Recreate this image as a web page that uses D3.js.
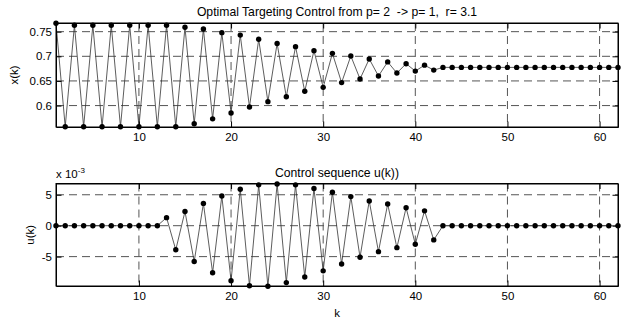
<!DOCTYPE html>
<html lang="en">
    <head>
        <meta charset="utf-8">
        <title>Optimal Targeting Control</title>
        <script src="https://d3js.org/d3.v7.min.js"></script>
    </head>

    <style type="text/css">
        body {
            margin: 0;
            background: #fff;
        }

        svg text {
            font-family: "Liberation Sans", Arial, Helvetica, sans-serif;
            font-size: 11.5px;
            fill: #000;
            white-space: pre;
        }

        svg text.title {
            font-size: 12.2px;
        }

        .grid line {
            stroke: #555;
            stroke-width: 1px;
            stroke-dasharray: 8,5;
        }

        .trace {
            fill: none;
            stroke: #333;
            stroke-width: 0.8px;
        }
    </style>

    <body>
        <div class="chart"></div>
        <script type="text/javascript">
            // data
            var kValues = d3.range(1, 63);

            var xValues = [0.767, 0.557, 0.763, 0.557, 0.763, 0.557, 0.763, 0.557, 0.763, 0.557,
                           0.763, 0.557, 0.763, 0.557, 0.759, 0.563, 0.7555, 0.573, 0.748, 0.585,
                           0.743, 0.597, 0.7345, 0.608, 0.726, 0.618, 0.7196, 0.629, 0.7115, 0.637,
                           0.706, 0.6466, 0.7007, 0.654, 0.6946, 0.660, 0.6886, 0.666, 0.685, 0.670,
                           0.682, 0.672, 0.6775, 0.6775, 0.6775, 0.6775, 0.6775, 0.6775, 0.6775, 0.6775,
                           0.6775, 0.6775, 0.6775, 0.6775, 0.6775, 0.6775, 0.6775, 0.6775, 0.6775, 0.6775,
                           0.6775, 0.6775];

            // u(k) in units of 1e-3
            var uValues = [0, 0, 0, 0, 0, 0, 0, 0, 0, 0,
                           0, 0, 1.3, -3.9, 2.3, -5.8, 3.6, -7.6, 4.8, -8.9,
                           5.9, -9.7, 6.6, -9.8, 6.75, -9.2, 6.6, -8.3, 6.0, -7.3,
                           5.4, -6.2, 4.7, -5.1, 4.0, -4.2, 3.5, -3.55, 2.9, -3.0,
                           2.4, -2.3, 0, 0, 0, 0, 0, 0, 0, 0,
                           0, 0, 0, 0, 0, 0, 0, 0, 0, 0,
                           0, 0];

            var kTicks = [10, 20, 30, 40, 50, 60];
            var xTicks = [0.6, 0.65, 0.7, 0.75];
            var uTicks = [-5, 0, 5];

            var width = 626, height = 320;

            var canvas = d3.select(".chart")
                        .append("svg")
                        .attr("width", width)
                        .attr("height", height);

            var left = 56, right = 618;

            var kScale = d3.scaleLinear()
                .domain([1, 62])
                .range([left, right]);

            // top panel
            panel({
                top: 23, bottom: 127,
                values: xValues,
                domain: [0.5565, 0.7676],
                yTicks: xTicks,
                title: "Optimal Targeting Control from p= 2  -> p= 1,  r= 3.1",
                ylabel: "x(k)",
                ylabelX: 18
            });

            // bottom panel
            panel({
                top: 183.5, bottom: 286,
                values: uValues,
                domain: [-9.75, 6.82],
                yTicks: uTicks,
                title: "Control sequence u(k))",
                ylabel: "u(k)",
                ylabelX: 34
            });

            // exponent label on bottom panel
            var expo = canvas.append("text")
                .attr("x", left)
                .attr("y", 178);
            expo.append("tspan").text("x 10");
            expo.append("tspan")
                .attr("dy", -5)
                .style("font-size", "8px")
                .text("-3");

            // x label
            canvas.append("text")
                .attr("x", (left + right) / 2)
                .attr("y", 317)
                .attr("text-anchor", "middle")
                .text("k");

            function panel(p) {
                var yScale = d3.scaleLinear()
                    .domain(p.domain)
                    .range([p.bottom, p.top]);

                var g = canvas.append("g");

                // dashed grid
                var grid = g.append("g").attr("class", "grid");
                grid.selectAll(".vg")
                    .data(kTicks)
                    .enter()
                    .append("line")
                    .attr("x1", function(d) { return kScale(d); })
                    .attr("x2", function(d) { return kScale(d); })
                    .attr("y1", p.top)
                    .attr("y2", p.bottom);
                grid.selectAll(".hg")
                    .data(p.yTicks)
                    .enter()
                    .append("line")
                    .attr("x1", left)
                    .attr("x2", right)
                    .attr("y1", function(d) { return yScale(d); })
                    .attr("y2", function(d) { return yScale(d); });

                // data line and markers
                var line = d3.line()
                    .x(function(d, i) { return kScale(kValues[i]); })
                    .y(function(d) { return yScale(d); });

                g.append("path")
                    .datum(p.values)
                    .attr("class", "trace")
                    .attr("d", line);

                g.selectAll("circle")
                    .data(p.values)
                    .enter()
                    .append("circle")
                    .attr("cx", function(d, i) { return kScale(kValues[i]); })
                    .attr("cy", function(d) { return yScale(d); })
                    .attr("r", 2.7)
                    .style("fill", "#000");

                // axes, ticks inward on all four sides
                var tickLen = 5.5;
                var xAxis = d3.axisBottom(kScale).tickValues(kTicks).tickSizeInner(-tickLen).tickSizeOuter(0).tickPadding(6);
                var xAxisTop = d3.axisTop(kScale).tickValues(kTicks).tickSizeInner(-tickLen).tickSizeOuter(0).tickFormat("");
                var yAxis = d3.axisLeft(yScale).tickValues(p.yTicks).tickSizeInner(-tickLen).tickSizeOuter(0).tickPadding(4).tickFormat(function(d) { return String(d); });
                var yAxisRight = d3.axisRight(yScale).tickValues(p.yTicks).tickSizeInner(-tickLen).tickSizeOuter(0).tickFormat("");

                var axes = [
                    g.append("g").attr("transform", "translate(0," + p.bottom + ")").call(xAxis),
                    g.append("g").attr("transform", "translate(0," + p.top + ")").call(xAxisTop),
                    g.append("g").attr("transform", "translate(" + left + ",0)").call(yAxis),
                    g.append("g").attr("transform", "translate(" + right + ",0)").call(yAxisRight)
                ];
                axes.forEach(function(a) {
                    a.attr("font-family", null).attr("font-size", null);
                    a.selectAll("text").attr("fill", "#000");
                    a.selectAll("line").attr("stroke", "#000");
                    a.select(".domain").attr("stroke", "#000").attr("stroke-width", 1);
                });

                // box
                g.append("rect")
                    .attr("x", left)
                    .attr("y", p.top)
                    .attr("width", right - left)
                    .attr("height", p.bottom - p.top)
                    .style("fill", "none")
                    .style("stroke", "#000")
                    .style("stroke-width", 1);

                // title
                g.append("text")
                    .attr("class", "title")
                    .attr("x", (left + right) / 2)
                    .attr("y", p.top - 7)
                    .attr("text-anchor", "middle")
                    .text(p.title);

                // y label
                g.append("text")
                    .attr("transform", "translate(" + p.ylabelX + "," + ((p.top + p.bottom) / 2) + ") rotate(-90)")
                    .attr("text-anchor", "middle")
                    .text(p.ylabel);
            }
        </script>
    </body>
</html>
